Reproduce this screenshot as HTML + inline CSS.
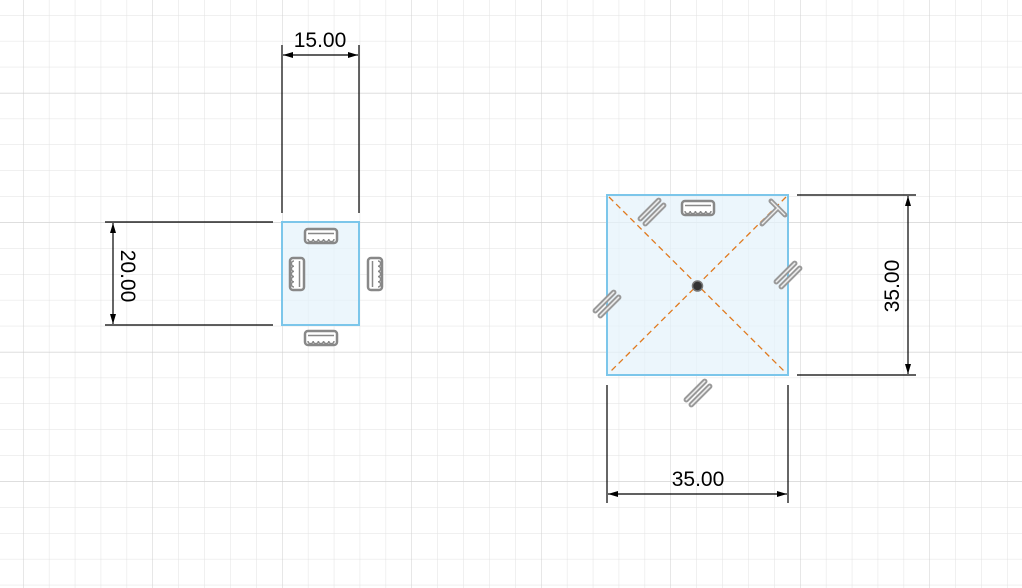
<!DOCTYPE html>
<html><head><style>body{margin:0;background:#fff}svg{display:block}</style></head><body>
<svg width="1022" height="588" viewBox="0 0 1022 588" xmlns="http://www.w3.org/2000/svg" font-family="Liberation Sans, sans-serif">
<defs>
<pattern id="g" x="-2.9" y="-10.9" width="25.9" height="25.9" patternUnits="userSpaceOnUse">
<path d="M0 0H25.9M0 0V25.9" stroke="#e2e2e2" stroke-width="1" fill="none"/></pattern>
<pattern id="G" x="23" y="-36.5" width="129.5" height="129.5" patternUnits="userSpaceOnUse">
<path d="M0 0H129.5M0 0V129.5" stroke="#cfcfcf" stroke-width="1" fill="none"/></pattern>
<marker id="a" viewBox="0 0 10 6" refX="10" refY="3" markerWidth="10" markerHeight="6" orient="auto-start-reverse" markerUnits="userSpaceOnUse"><path d="M0 0L10 3L0 6z" fill="#000"/></marker>
<g id="cm"><rect x="-16" y="-7" width="32" height="14" rx="3" fill="#fff" stroke="#888" stroke-width="2.5"/><line x1="-13" y1="-2.5" x2="13" y2="-2.5" stroke="#888" stroke-width="1.5"/><path d="M-13 3a2.6 2.6 0 0 0 5.2 0a2.6 2.6 0 0 0 5.2 0a2.6 2.6 0 0 0 5.2 0a2.6 2.6 0 0 0 5.2 0a2.6 2.6 0 0 0 5.2 0" fill="none" stroke="#888" stroke-width="1.5"/></g>
<g id="pl"><line x1="-13" y1="-3.5" x2="13" y2="-3.5" stroke="#999" stroke-width="5.5" stroke-linecap="round"/><line x1="-13" y1="3.5" x2="13" y2="3.5" stroke="#999" stroke-width="5.5" stroke-linecap="round"/><line x1="-13" y1="-3.5" x2="13" y2="-3.5" stroke="#eee" stroke-width="1.5" stroke-linecap="round"/><line x1="-13" y1="3.5" x2="13" y2="3.5" stroke="#eee" stroke-width="1.5" stroke-linecap="round"/></g>
</defs>
<rect width="1022" height="588" fill="url(#g)"/>
<rect width="1022" height="588" fill="url(#G)"/>

<rect x="282" y="222" width="77" height="103" fill="#e4f2fb" fill-opacity="0.7" stroke="#7cc6ea" stroke-width="2"/>
<use href="#cm" x="321" y="236"/>
<use href="#cm" x="321" y="338"/>
<use href="#cm" transform="translate(297,274) rotate(90)"/>
<use href="#cm" transform="translate(375,274) rotate(-90)"/>

<g stroke="#000" stroke-width="1.2">
<line x1="282" y1="45" x2="282" y2="213"/><line x1="359" y1="45" x2="359" y2="213"/>
<line x1="283" y1="55" x2="358" y2="55" marker-start="url(#a)" marker-end="url(#a)"/>
<line x1="105" y1="222" x2="273" y2="222"/><line x1="105" y1="325" x2="273" y2="325"/>
<line x1="113" y1="223" x2="113" y2="324" marker-start="url(#a)" marker-end="url(#a)"/>
</g>
<text x="320" y="47" font-size="21" text-anchor="middle">15.00</text>
<text transform="translate(121,276) rotate(90)" font-size="21" text-anchor="middle">20.00</text>

<rect x="607" y="195" width="181" height="180" fill="#e4f2fb" fill-opacity="0.7" stroke="#7cc6ea" stroke-width="2"/>
<g stroke="#e07a1f" stroke-width="1.3" stroke-dasharray="6,4">
<line x1="609" y1="197" x2="786" y2="373"/><line x1="786" y1="197" x2="609" y2="373"/>
</g>
<circle cx="697.5" cy="286" r="5" fill="#333" stroke="#777" stroke-width="1.5"/>
<use href="#cm" x="698" y="208"/>
<use href="#pl" transform="translate(652,212) rotate(-45)"/>
<use href="#pl" transform="translate(788,275) rotate(-45)"/>
<use href="#pl" transform="translate(607,304) rotate(-45)"/>
<use href="#pl" transform="translate(698,393) rotate(-45)"/>
<g stroke="#999" stroke-width="5" stroke-linecap="round"><line x1="762" y1="224" x2="778" y2="208"/><line x1="771" y1="201" x2="785" y2="215"/></g>
<g stroke="#eee" stroke-width="1.4"><line x1="762" y1="224" x2="778" y2="208"/><line x1="771" y1="201" x2="785" y2="215"/></g>

<g stroke="#000" stroke-width="1.2">
<line x1="797" y1="195" x2="916" y2="195"/><line x1="797" y1="375" x2="916" y2="375"/>
<line x1="908" y1="196" x2="908" y2="374" marker-start="url(#a)" marker-end="url(#a)"/>
<line x1="607" y1="385" x2="607" y2="503"/><line x1="788" y1="385" x2="788" y2="503"/>
<line x1="608" y1="494" x2="787" y2="494" marker-start="url(#a)" marker-end="url(#a)"/>
</g>
<text transform="translate(899,286) rotate(-90)" font-size="21" text-anchor="middle">35.00</text>
<text x="698" y="486" font-size="21" text-anchor="middle">35.00</text>
</svg>
</body></html>
